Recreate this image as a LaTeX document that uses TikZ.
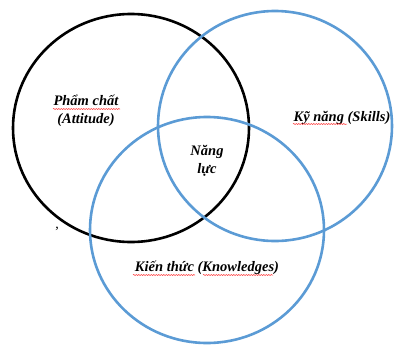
\documentclass[tikz,border=0pt]{standalone}
\usepackage{fontspec}
\setmainfont{Liberation Serif}
\usetikzlibrary{decorations.pathmorphing}
\definecolor{vblue}{HTML}{5B9BD5}
\tikzset{
  ring/.style={line width=2.6pt},
  lbl/.style={font=\fontsize{14.5}{18}\selectfont\bfseries\itshape, align=center, inner sep=0pt},
  spell/.style={draw=red!80!white, line width=0.5pt, decorate, decoration={snake, amplitude=0.6pt, segment length=2.5pt}}
}
\begin{document}
\begin{tikzpicture}[x=1pt,y=-1pt]
\useasboundingbox (0,0) rectangle (394,346);
\draw[ring, black] (131,128) ellipse [x radius=118, y radius=114];
\draw[ring, vblue] (275,126) ellipse [x radius=117, y radius=115];
\draw[ring, vblue] (207,230) ellipse [x radius=117, y radius=113];
\node[lbl] (att) at (86,111) {Phẩm chất\\(Attitude)};
\node[lbl] (core) at (207,161) {Năng\\lực};
\node[lbl] (ski) at (342,118) {Kỹ năng (Skills)};
\node[lbl] (kno) at (207,268) {Kiến thức (Knowledges)};
\node[lbl, font=\fontsize{14}{16}\selectfont] (comma) at (57,229) {,};
\draw[spell] (53,109) -- (120,109);
\draw[spell] (293,124) -- (347,124);
\draw[spell] (133,275) -- (195,275);
\draw[spell] (203,275) -- (273,275);
\end{tikzpicture}
\end{document}
